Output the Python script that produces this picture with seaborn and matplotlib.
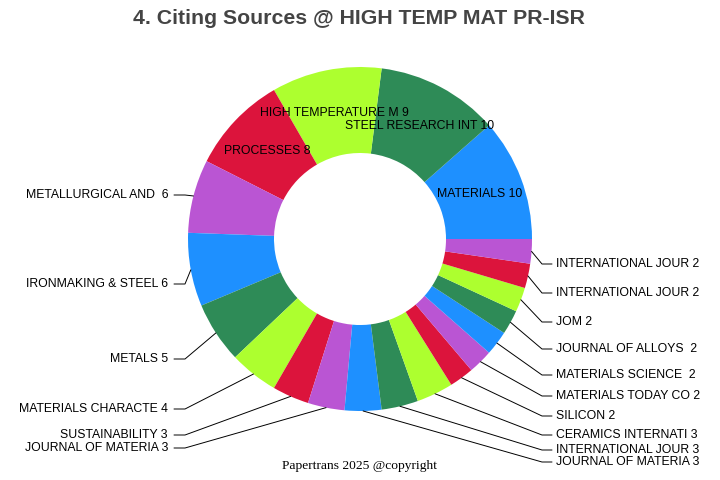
import numpy as np
import matplotlib
matplotlib.use("Agg")
import matplotlib.pyplot as plt
import seaborn as sns

# data: citing source titles and counts, in drawing order (counterclockwise from 3 o'clock)
sources = ["MATERIALS", "STEEL RESEARCH INT", "HIGH TEMPERATURE M", "PROCESSES",
           "METALLURGICAL AND ", "IRONMAKING & STEEL", "METALS", "MATERIALS CHARACTE",
           "SUSTAINABILITY", "JOURNAL OF MATERIA", "JOURNAL OF MATERIA",
           "INTERNATIONAL JOUR", "CERAMICS INTERNATI", "SILICON", "MATERIALS TODAY CO",
           "MATERIALS SCIENCE ", "JOURNAL OF ALLOYS ", "JOM", "INTERNATIONAL JOUR",
           "INTERNATIONAL JOUR"]
counts = [10, 10, 9, 8, 6, 6, 5, 4, 3, 3, 3, 3, 3, 2, 2, 2, 2, 2, 2, 2]

# layout (pixels from top) for the outside labels
n_inside = 4
left_label_y = [195, 284, 359, 409, 435, 448]      # slices 4..9
right_label_y = [462, 450, 435, 416, 396, 375, 349, 322, 293, 264]  # slices 10..19

W, H = 720, 480
cx, cy, R = 360, 239, 172
fs = 8.8

sns.set_style("white")
plt.rcParams['font.family'] = ['Liberation Sans', 'DejaVu Sans']
plt.rcParams['text.color'] = 'black'
colors = sns.color_palette(["#1E90FF", "#2E8B57", "#ADFF2F", "#DC143C", "#BA55D3"])
slice_colors = [colors[i % 5] for i in range(len(counts))]

fig = plt.figure(figsize=(7.2, 4.8), dpi=100)
ax = fig.add_axes([0, 0, 1, 1])

wedges, _ = ax.pie(counts, colors=slice_colors, startangle=0, counterclock=True,
                   radius=R, center=(cx, H - cy),
                   wedgeprops=dict(width=R * 0.5, linewidth=0))
ax.set_xlim(0, W)
ax.set_ylim(0, H)
ax.set_aspect('equal')
ax.axis('off')

labels = [f"{s} {c}" for s, c in zip(sources, counts)]

for i, w in enumerate(wedges):
    mid = np.deg2rad((w.theta1 + w.theta2) / 2)
    ex = cx + R * np.cos(mid)
    ey = (H - cy) + R * np.sin(mid)
    if i < n_inside:
        r = 0.745 * R
        ax.text(cx + r * np.cos(mid), (H - cy) + r * np.sin(mid), labels[i],
                ha='center', va='center', fontsize=fs, color='black')
        continue
    if i < 10:
        ly = H - left_label_y[i - n_inside]
        ax.plot([ex, 185, 174], [ey, ly, ly], color='black', lw=0.7)
        ax.text(168, ly, labels[i], ha='right', va='center', fontsize=fs, color='black')
    else:
        ly = H - right_label_y[i - 10]
        ax.plot([ex, 542, 552], [ey, ly, ly], color='black', lw=0.7)
        ax.text(556, ly, labels[i], ha='left', va='center', fontsize=fs, color='black')

ax.text(359, H - 18, "4. Citing Sources @ HIGH TEMP MAT PR-ISR", ha='center', va='center',
        fontsize=15.3, fontweight='bold', color='#444444')
ax.text(359, H - 466, "Papertrans 2025 @copyright", ha='center', va='center',
        fontsize=9.7, family=['Liberation Serif', 'DejaVu Serif'], color='black')

fig.savefig("out.png", dpi=100)
